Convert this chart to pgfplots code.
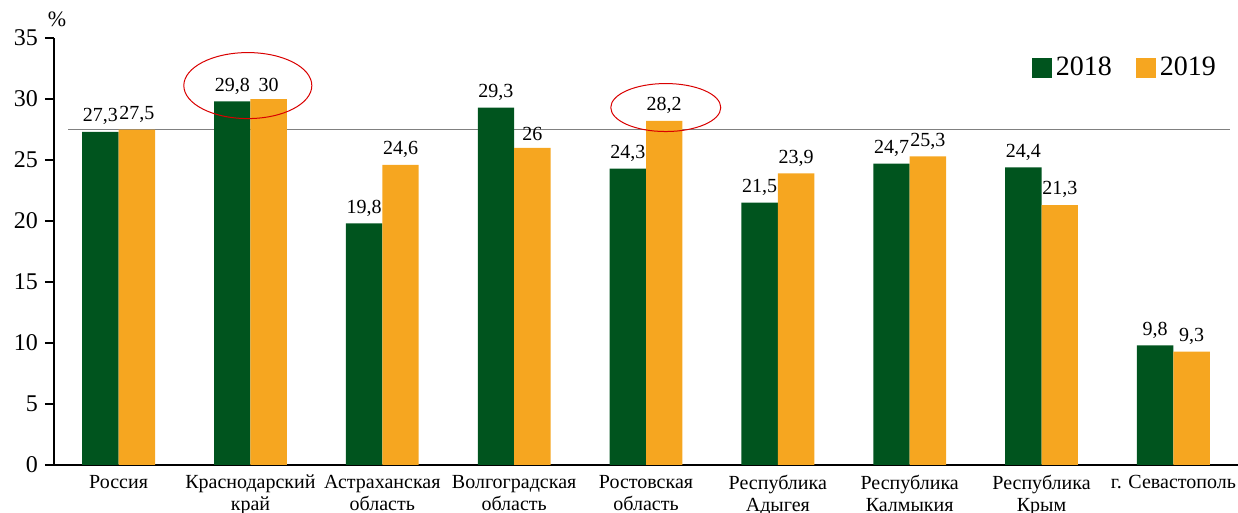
\documentclass[border=0pt]{standalone}
\usepackage{pgfplots}
\pgfplotsset{compat=1.18}
\usepackage{fontspec}
\setmainfont{Liberation Serif}
\definecolor{cgreen}{RGB}{0,84,30}
\definecolor{corange}{RGB}{246,166,32}
\begin{document}
\begin{tikzpicture}
\begin{axis}[
  scale only axis, width=592pt, height=213.5pt,
  xmin=-0.49, xmax=8.49, ymin=0, ymax=35,
  axis x line*=bottom, axis y line*=left,
  axis line style={line width=0.6pt, black},
  xtick={0,...,8},
  xticklabels={Россия, Краснодарский\\край, Астраханская\\область, Волгоградская\\область, Ростовская\\область, Республика\\Адыгея, Республика\\Калмыкия, Республика\\Крым, г. Севастополь},
  x tick label style={align=center, font=\fontsize{10}{11}\selectfont, yshift=3pt},
  x tick style={draw=none},
  ytick={0,5,...,35},
  y tick label style={font=\fontsize{12}{14}\selectfont},
  tick align=outside, major tick length=4.5pt,
  y tick style={black, line width=0.6pt},
  /pgf/number format/assume math mode=true,
  /pgf/number format/use comma,
  legend columns=2,
  legend style={draw=none, at={(0.99,0.93)}, anchor=east, font=\fontsize{14}{16}\selectfont,
    /tikz/every even column/.append style={column sep=10pt}},
  legend image code/.code={\fill[#1] (0pt,-5pt) rectangle (10pt,5pt);},
  nodes near coords style={font=\fontsize{10}{12}\selectfont, black},
  clip=false,
]
\addplot[gray, line width=0.6pt, forget plot] coordinates {(-0.383,27.5) (8.43,27.5)};
\addplot[ybar, bar width=18.2pt, bar shift=-9.1pt, fill=cgreen, draw=none,
  nodes near coords, nodes near coords align={vertical},
  every node near coord/.append style={yshift=0pt, xshift=-9.1pt}]
  coordinates {(0,27.3) (1,29.8) (2,19.8) (3,29.3) (4,24.3) (5,21.5) (6,24.7) (7,24.4) (8,9.8)};
\addplot[ybar, bar width=18.2pt, bar shift=9.1pt, fill=corange, draw=none,
  nodes near coords, nodes near coords align={vertical},
  every node near coord/.append style={yshift=0pt, xshift=9.1pt}]
  coordinates {(0,27.5) (1,30) (2,24.6) (3,26) (4,28.2) (5,23.9) (6,25.3) (7,21.3) (8,9.3)};
\legend{2018, 2019}
\draw[red!85!black, line width=0.5pt] (axis cs:0.98,31.1) ellipse [x radius=32pt, y radius=16.5pt];
\draw[red!85!black, line width=0.5pt] (axis cs:4.15,29.3) ellipse [x radius=27.5pt, y radius=12pt];
\node[font=\fontsize{11}{13}\selectfont, inner sep=0pt] at ([xshift=1.5pt, yshift=9.5pt]rel axis cs:0,1) {\%};
\coordinate (bl) at (rel axis cs:0,0);
\coordinate (tr) at (rel axis cs:1,1);
\end{axis}
\path (bl) ++(-27pt,-24pt) coordinate (A);
\path (tr) ++(0pt,19pt) coordinate (B);
\pgfresetboundingbox
\path[use as bounding box] (A) rectangle (B);
\end{tikzpicture}
\end{document}
